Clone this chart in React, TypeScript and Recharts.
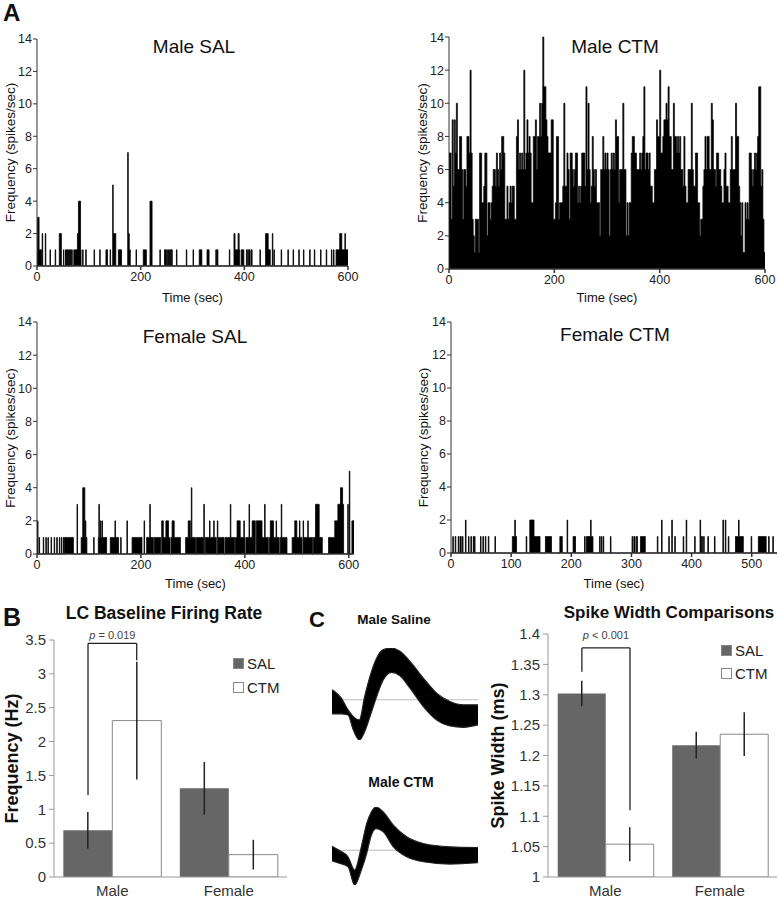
import React from "react";
import {
  AreaChart,
  Area,
  BarChart,
  Bar,
  ErrorBar,
  XAxis,
  YAxis,
  ReferenceLine,
} from "recharts";

const FONT = "'Liberation Sans', Arial, Helvetica, sans-serif";

// ---- Panel A: firing-rate histograms (spikes/sec) ----
// runs are [startSec, endSec, value]; later runs overwrite earlier ones
const maleSalRuns = [
  [1, 4, 3], [4, 9, 1], [10, 11, 2], [16, 17, 2], [25, 26, 1], [35, 36, 1],
  [43, 47, 2], [51, 52, 1], [55, 56, 1], [57, 58, 1], [59, 60, 1], [61, 62, 1],
  [63, 64, 1], [65, 66, 1], [67, 68, 1], [71, 78, 1], [78, 80, 2], [80, 84, 4],
  [84, 85, 1], [88, 89, 1], [94, 95, 1], [110, 111, 1], [121, 122, 1],
  [133, 136, 1], [141, 142, 1], [146, 147, 5], [147, 152, 2], [157, 163, 1],
  [175, 176, 7], [176, 178, 2], [178, 180, 1], [191, 192, 1], [205, 211, 1],
  [218, 222, 4], [237, 238, 1], [246, 250, 1], [252, 253, 1], [254, 255, 1],
  [256, 258, 1], [259, 261, 1], [269, 270, 1], [288, 289, 1], [301, 302, 1],
  [313, 318, 1], [328, 332, 1], [345, 346, 1], [347, 349, 1], [371, 372, 1],
  [380, 391, 1], [380, 382, 2], [388, 390, 2], [394, 399, 1], [404, 406, 1],
  [408, 411, 1], [413, 415, 1], [430, 431, 1], [441, 446, 2], [446, 450, 1],
  [454, 455, 2], [457, 458, 1], [471, 472, 1], [484, 485, 1], [494, 495, 1],
  [505, 506, 1], [514, 515, 1], [526, 527, 1], [535, 536, 1], [547, 548, 1],
  [558, 559, 1], [568, 569, 1], [572, 573, 1], [577, 600, 1], [584, 588, 2],
  [594, 595, 2],
];

// Male CTM read in 2-second bins
const maleCtmBins = [
  7, 7, 3, 9, 5, 9, 7, 10, 6, 6, 8, 8, 6, 3, 6, 6, 5, 8, 8, 7,
  12, 7, 3, 2, 1, 3, 3, 3, 1, 7, 7, 4, 4, 5, 7, 7, 2, 4, 4, 3,
  4, 5, 6, 6, 5, 7, 6, 5, 7, 6, 8, 8, 7, 3, 3, 5, 3, 4, 5, 4,
  5, 5, 3, 3, 8, 9, 6, 7, 6, 7, 6, 12, 6, 7, 9, 7, 8, 7, 4, 4,
  8, 8, 9, 6, 8, 8, 10, 8, 10, 14, 11, 11, 9, 8, 7, 7, 7, 9, 9, 3,
  3, 4, 8, 8, 3, 4, 4, 4, 5, 10, 5, 5, 7, 6, 3, 7, 7, 6, 5, 6,
  7, 7, 4, 5, 4, 5, 7, 7, 7, 5, 11, 6, 10, 6, 4, 5, 8, 6, 5, 6,
  4, 4, 4, 2, 6, 6, 8, 6, 7, 6, 7, 6, 2, 6, 7, 6, 7, 6, 9, 8,
  8, 4, 6, 6, 6, 10, 6, 6, 2, 4, 2, 4, 4, 7, 8, 8, 7, 7, 6, 6,
  6, 7, 6, 7, 8, 11, 6, 7, 7, 6, 7, 5, 5, 4, 4, 6, 6, 9, 8, 8,
  12, 7, 7, 8, 9, 9, 10, 9, 11, 8, 8, 6, 6, 10, 8, 8, 7, 8, 7, 8,
  6, 6, 5, 8, 5, 4, 4, 6, 6, 6, 10, 6, 5, 5, 7, 7, 4, 4, 2, 3,
  3, 5, 6, 8, 6, 8, 8, 6, 6, 10, 9, 6, 6, 5, 7, 7, 6, 6, 5, 4,
  4, 6, 7, 5, 5, 4, 4, 6, 8, 6, 6, 6, 10, 8, 8, 5, 4, 2, 4, 1,
  1, 4, 3, 4, 3, 7, 7, 6, 5, 6, 7, 6, 7, 8, 11, 11, 5, 6, 3, 1,
];

const femaleSalRuns = [
  [4, 5, 1], [12, 13, 1], [17, 18, 1], [21, 22, 1], [27, 28, 1], [33, 34, 1],
  [38, 39, 1], [43, 44, 1], [47, 48, 1], [51, 52, 1], [53, 70, 1], [85, 96, 1],
  [109, 110, 1], [118, 134, 1], [141, 157, 1], [161, 162, 1], [183, 202, 1],
  [211, 224, 1], [226, 238, 1], [240, 256, 1], [258, 276, 1], [286, 305, 1],
  [307, 320, 1], [324, 345, 1], [347, 360, 1], [362, 380, 1], [382, 400, 1],
  [402, 420, 1], [422, 445, 1], [447, 466, 1], [468, 481, 1], [491, 510, 1],
  [512, 530, 1], [532, 549, 1], [561, 573, 1],
  [1, 2, 2], [93, 94, 2], [122, 123, 2], [125, 126, 2], [150, 151, 2],
  [173, 174, 2], [206, 207, 2], [240, 243, 2], [248, 253, 2], [260, 264, 2],
  [291, 295, 2], [332, 333, 2], [340, 341, 2], [347, 348, 2], [385, 391, 2],
  [398, 399, 2], [414, 420, 2], [422, 433, 2], [449, 455, 2], [460, 461, 2],
  [496, 500, 2], [505, 506, 2], [512, 513, 2], [521, 522, 2], [573, 579, 2],
  [606, 611, 2],
  [77, 78, 3], [119, 120, 3], [217, 218, 3], [321, 322, 3], [372, 373, 3],
  [408, 409, 3], [438, 439, 3], [470, 471, 3], [536, 543, 3], [579, 590, 3],
  [598, 599, 3],
  [88, 92, 4], [297, 298, 4], [584, 588, 4],
  [601, 602, 5],
];

const femaleCtmRuns = [
  [3, 4, 1], [7, 8, 1], [12, 13, 1], [15, 17, 1], [19, 20, 1], [24, 25, 2],
  [29, 30, 1], [33, 34, 1], [37, 38, 1], [39, 40, 1], [49, 50, 1], [53, 54, 1],
  [57, 58, 1], [62, 63, 1], [73, 74, 1], [102, 109, 1], [106, 107, 2],
  [125, 126, 1], [131, 138, 2], [138, 148, 1], [157, 167, 1], [181, 185, 1],
  [193, 194, 2], [203, 207, 1], [222, 223, 1], [225, 236, 1], [232, 233, 2],
  [247, 248, 1], [250, 251, 1], [253, 254, 1], [265, 266, 1], [301, 302, 1],
  [304, 306, 1], [308, 310, 1], [315, 323, 1], [343, 344, 1], [350, 351, 2],
  [362, 363, 1], [367, 368, 2], [372, 373, 1], [386, 387, 1], [391, 392, 2],
  [405, 406, 1], [414, 415, 2], [416, 418, 1], [420, 421, 1], [427, 428, 1],
  [438, 439, 1], [452, 453, 2], [456, 457, 2], [461, 462, 1], [473, 486, 1],
  [478, 479, 2], [499, 500, 1], [511, 524, 1], [528, 529, 1], [535, 536, 1],
];

const HIST_Y_TICKS = [0, 2, 4, 6, 8, 10, 12, 14];
const TICKS_600 = [0, 200, 400, 600];
const TICKS_500 = [0, 100, 200, 300, 400, 500];

function fromRuns(len: number, runs: number[][]) {
  const bins = new Array(len).fill(0);
  runs.forEach(([a, b, v]) => {
    for (let i = a; i < b && i < len; i++) bins[i] = v;
  });
  return bins;
}

function toSteps(bins: number[], binWidth: number) {
  const pts = bins.map((v, i) => ({ t: i * binWidth, v }));
  pts.push({ t: bins.length * binWidth, v: 0 });
  return pts;
}

const maleSalData = toSteps(fromRuns(600, maleSalRuns), 1);
const maleCtmData = toSteps(maleCtmBins, 2);
const femaleSalData = toSteps(fromRuns(610, femaleSalRuns), 1);
const femaleCtmData = toSteps(fromRuns(542, femaleCtmRuns), 1);

// ---- Panel B: LC baseline firing rate (Hz) ----
const groups = ["Male", "Female"];
const rateSal = [0.69, 1.31];
const rateSalErr = [0.27, 0.39];
const rateCtm = [2.31, 0.33];
const rateCtmErr = [0.87, 0.22];

// ---- Panel C: spike width (ms) ----
const widthSal = [1.302, 1.217];
const widthSalErr = [0.021, 0.022];
const widthCtm = [1.054, 1.235];
const widthCtmErr = [0.028, 0.036];

// waveform envelopes (t in ms, amplitude arbitrary units)
const salWaveT = [0, 0.07, 0.14, 0.24, 0.32, 0.41, 0.49, 0.57, 0.67, 0.77, 0.89, 1.02, 1.17, 1.37, 1.57, 1.77, 1.97, 2.19];
const salWaveHi = [3, 2, 0.5, -3, -5, -6, 1, 7, 12.5, 15, 15.5, 14.5, 11.5, 6.5, 2, -0.5, -1.5, -1.5];
const salWaveLo = [-4.2, -4.2, -4.2, -4.5, -9, -12, -9.5, -5, 1, 6, 8.2, 7.2, 3.5, -2, -6, -7.8, -8.2, -7.5];
const ctmWaveT = [0, 0.12, 0.24, 0.34, 0.44, 0.52, 0.59, 0.66, 0.77, 0.92, 1.12, 1.37, 1.77, 2.19];
const ctmWaveHi = [1.2, -0.2, -2, -6, 1, 8, 11.5, 13, 11.5, 7.5, 4, 2, 1, 0.8];
const ctmWaveLo = [-3.2, -4, -5, -10.5, -6, -1, 4.5, 6.5, 5.5, 1, -2, -3.5, -4.2, -3.8];

const rateData = groups.map((g, i) => ({
  group: g, sal: rateSal[i], salErr: rateSalErr[i], ctm: rateCtm[i], ctmErr: rateCtmErr[i],
}));
const widthData = groups.map((g, i) => ({
  group: g, sal: widthSal[i], salErr: widthSalErr[i], ctm: widthCtm[i], ctmErr: widthCtmErr[i],
}));
// thin grey zero line kept as its own band so the traces sit on top of it
const salWave = salWaveT.map((t, i) => ({ t, base: [-0.15, 0.15], band: [salWaveLo[i], salWaveHi[i]] }));
const ctmWave = ctmWaveT.map((t, i) => ({ t, base: [-0.15, 0.15], band: [ctmWaveLo[i], ctmWaveHi[i]] }));

function Txt({ x, y, size, bold, left, children }: any) {
  return (
    <div
      style={{
        position: "absolute",
        left: left ? x : x - 200,
        width: left ? undefined : 400,
        top: y - size * 0.6,
        textAlign: left ? "left" : "center",
        fontSize: size,
        lineHeight: `${size * 1.2}px`,
        fontWeight: bold ? 700 : 400,
        whiteSpace: "nowrap",
        color: "#111",
      }}
    >
      {children}
    </div>
  );
}

function Histogram({ data, xMax, xTicks, left, top, width, height, plot, labelX, labelOffset, lineW }: any) {
  return (
    <div style={{ position: "absolute", left, top }}>
      <AreaChart
        width={width}
        height={height}
        data={data}
        margin={{ top: plot.top - top, right: left + width - plot.right, left: 0, bottom: 0 }}
      >
        <XAxis
          dataKey="t"
          type="number"
          domain={[0, xMax]}
          ticks={xTicks}
          allowDataOverflow
          height={top + height - plot.bottom}
          stroke="#333"
          strokeWidth={1.5}
          tickSize={4}
          tick={{ fontSize: 12.5, fill: "#222", fontFamily: FONT }}
          label={{ value: "Time (sec)", position: "insideBottom", offset: labelOffset, fontSize: 13, fill: "#111", fontFamily: FONT }}
        />
        <YAxis
          type="number"
          domain={[0, 14]}
          ticks={HIST_Y_TICKS}
          width={plot.left - left}
          stroke="#333"
          tickSize={4}
          tickMargin={1}
          tick={{ fontSize: 12.5, fill: "#222", fontFamily: FONT }}
          label={{
            value: "Frequency (spikes/sec)",
            angle: -90,
            position: "insideLeft",
            offset: labelX,
            fontSize: 13.5,
            fill: "#111",
            fontFamily: FONT,
            style: { textAnchor: "middle" },
          }}
        />
        <Area
          type="stepAfter"
          dataKey="v"
          stroke="#000"
          strokeWidth={lineW}
          fill="#000"
          fillOpacity={1}
          dot={false}
          activeDot={false}
          isAnimationActive={false}
        />
      </AreaChart>
    </div>
  );
}

const pLabel = (text: string, lift: number) => (props: any) => {
  const vb = props.viewBox || { x: 0, y: 0, width: 0 };
  return (
    <text x={vb.x + vb.width / 2} y={vb.y - lift} textAnchor="middle" fontSize={11} fill="#444" fontFamily={FONT}>
      <tspan fontStyle="italic">p</tspan>
      {text}
    </text>
  );
};

function Swatches({ x, y1, y2 }: any) {
  const row = (y: number, fill: string, label: string) => (
    <div style={{ position: "absolute", left: x, top: y - 9, height: 18, display: "flex", alignItems: "center", fontSize: 15, color: "#222" }}>
      <span style={{ width: 9, height: 9, background: fill, border: "1px solid #888", marginRight: 3 }} />
      {label}
    </div>
  );
  return (
    <>
      {row(y1, "#666", "SAL")}
      {row(y2, "#fff", "CTM")}
    </>
  );
}

// bracket x positions are fractions of the plot width (bar centres)
function GroupBars({ data, left, top, width, height, plot, domain, ticks, yLabel, labelX, gap, bx, bracket, pText, pLift }: any) {
  const axisTick = { fontSize: 15, fill: "#333", fontFamily: FONT };
  return (
    <div style={{ position: "absolute", left, top }}>
      <BarChart
        width={width}
        height={height}
        data={data}
        margin={{ top: plot.top - top, right: left + width - plot.right, left: 0, bottom: 0 }}
        barCategoryGap={gap}
        barGap={0}
      >
        <XAxis
          xAxisId="pos"
          type="number"
          domain={[0, 1]}
          ticks={[0, 0.5, 1]}
          allowDataOverflow
          height={0}
          axisLine={false}
          stroke="#999"
          tickSize={5}
          tick={() => <g />}
        />
        <XAxis xAxisId="cat" dataKey="group" stroke="#999" tickLine={false} tick={axisTick} height={top + height - plot.bottom} />
        <YAxis
          type="number"
          domain={domain}
          ticks={ticks}
          allowDataOverflow
          width={plot.left - left}
          stroke="#999"
          tickSize={5}
          tickMargin={3}
          tick={axisTick}
          label={{
            value: yLabel,
            angle: -90,
            position: "insideLeft",
            offset: labelX,
            fontSize: 18,
            fontWeight: 700,
            fill: "#111",
            fontFamily: FONT,
            style: { textAnchor: "middle" },
          }}
        />
        <Bar xAxisId="cat" dataKey="sal" fill="#666" isAnimationActive={false}>
          <ErrorBar dataKey="salErr" width={0} stroke="#222" strokeWidth={1.5} />
        </Bar>
        <Bar xAxisId="cat" dataKey="ctm" fill="#fff" stroke="#888" strokeWidth={1} isAnimationActive={false}>
          <ErrorBar dataKey="ctmErr" width={0} stroke="#222" strokeWidth={1.5} />
        </Bar>
        <ReferenceLine xAxisId="pos" segment={[{ x: bx[0], y: bracket[0] }, { x: bx[0], y: bracket[1] }]} stroke="#222" strokeWidth={1.3} />
        <ReferenceLine
          xAxisId="pos"
          segment={[{ x: bx[0], y: bracket[1] }, { x: bx[1], y: bracket[1] }]}
          stroke="#222"
          strokeWidth={1.3}
          label={pLabel(pText, pLift)}
        />
        <ReferenceLine xAxisId="pos" segment={[{ x: bx[1], y: bracket[1] }, { x: bx[1], y: bracket[2] }]} stroke="#222" strokeWidth={1.3} />
      </BarChart>
    </div>
  );
}

function Waveform({ data, left, top, width, height, domain }: any) {
  return (
    <div style={{ position: "absolute", left, top }}>
      <AreaChart width={width} height={height} data={data} margin={{ top: 0, right: 0, left: 0, bottom: 0 }}>
        <XAxis dataKey="t" type="number" domain={[0, 2.19]} hide />
        <YAxis type="number" domain={domain} allowDataOverflow hide />
        <Area type="linear" dataKey="base" stroke="none" fill="#bbb" fillOpacity={1} dot={false} activeDot={false} isAnimationActive={false} />
        <Area
          type="monotone"
          dataKey="band"
          stroke="#222"
          strokeWidth={1.2}
          fill="#000"
          fillOpacity={1}
          dot={false}
          activeDot={false}
          isAnimationActive={false}
        />
      </AreaChart>
    </div>
  );
}

export default function App() {
  return (
    <div style={{ position: "absolute", left: 0, top: 0, width: 779, height: 899, background: "#fff", fontFamily: FONT, overflow: "hidden" }}>
      <Histogram data={maleSalData} xMax={600} xTicks={TICKS_600} left={0} top={30} width={360} height={277}
        plot={{ left: 37, top: 39, right: 348, bottom: 266 }} labelX={10} labelOffset={5.5} lineW={0.8} />
      <Histogram data={maleCtmData} xMax={600} xTicks={TICKS_600} left={400} top={30} width={379} height={277}
        plot={{ left: 449, top: 37, right: 765, bottom: 269 }} labelX={22} labelOffset={5.5} lineW={0.7} />
      <Histogram data={femaleSalData} xMax={610} xTicks={TICKS_600} left={0} top={300} width={360} height={292}
        plot={{ left: 37, top: 322, right: 354, bottom: 554 }} labelX={10} labelOffset={4.5} lineW={0.8} />
      <Histogram data={femaleCtmData} xMax={542} xTicks={TICKS_500} left={400} top={300} width={379} height={292}
        plot={{ left: 451, top: 322, right: 777, bottom: 553 }} labelX={23} labelOffset={4.5} lineW={0.8} />

      <Txt x={194} y={47} size={19}>Male SAL</Txt>
      <Txt x={615} y={47} size={19}>Male CTM</Txt>
      <Txt x={195} y={337} size={19}>Female SAL</Txt>
      <Txt x={615} y={335} size={19}>Female CTM</Txt>

      <GroupBars data={rateData} left={0} top={590} width={300} height={309}
        plot={{ left: 54, top: 640, right: 287, bottom: 877 }} domain={[0, 3.5]}
        ticks={[0, 0.5, 1, 1.5, 2, 2.5, 3, 3.5]} yLabel="Frequency (Hz)" labelX={12} gap="8%"
        bx={[0.146, 0.355]} bracket={[1.21, 3.45, 3.2]} pText=" = 0.019" pLift={4} />
      <Swatches x={233} y1={663} y2={687} />

      <GroupBars data={widthData} left={480} top={590} width={299} height={309}
        plot={{ left: 548, top: 634, right: 777, bottom: 877 }} domain={[1, 1.4]}
        ticks={[1, 1.05, 1.1, 1.15, 1.2, 1.25, 1.3, 1.35, 1.4]} yLabel="Spike Width (ms)" labelX={18} gap="8.5%"
        bx={[0.148, 0.358]} bracket={[1.338, 1.377, 1.11]} pText=" < 0.001" pLift={8.5} />
      <Swatches x={721} y1={650} y2={673} />

      <Waveform data={salWave} left={332} top={648} width={146} height={92} domain={[-12, 15.5]} />
      <Waveform data={ctmWave} left={332} top={807} width={146} height={78} domain={[-10.5, 13]} />

      <Txt x={164} y={613} size={17.5} bold>LC Baseline Firing Rate</Txt>
      <Txt x={669} y={613} size={17} bold>Spike Width Comparisons</Txt>
      <Txt x={394} y={620} size={13.5} bold>Male Saline</Txt>
      <Txt x={401} y={782} size={14} bold>Male CTM</Txt>

      <Txt x={3} y={13.5} size={24} bold left>A</Txt>
      <Txt x={3} y={617} size={25} bold left>B</Txt>
      <Txt x={309} y={620} size={22} bold left>C</Txt>
    </div>
  );
}
